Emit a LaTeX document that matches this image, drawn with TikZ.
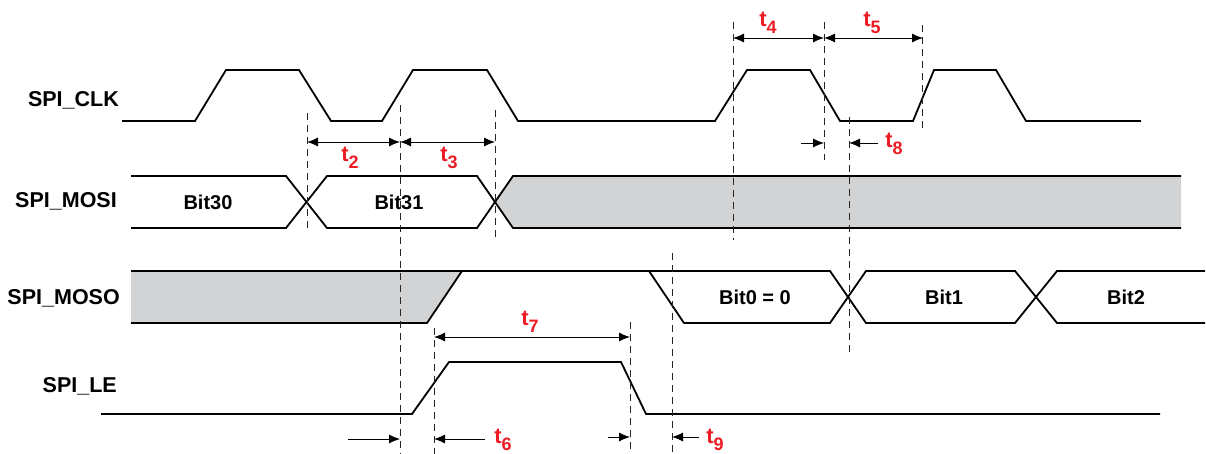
\documentclass[tikz,border=0pt]{standalone}
\usepackage{fontspec}
\setmainfont{Liberation Sans}
\usetikzlibrary{arrows.meta}
\definecolor{tred}{RGB}{237,28,36}
\definecolor{zgray}{RGB}{209,211,212}
\tikzset{
	sig/.style={line width=1.8pt, line join=miter},
	guide/.style={line width=1pt, black!85, dash pattern=on 7pt off 5pt},
	dim/.style={line width=0.9pt, {Latex[length=11pt,width=9pt]}-{Latex[length=11pt,width=9pt]}},
	dimin/.style={line width=0.9pt, -{Latex[length=11pt,width=9pt]}},
	siglab/.style={font=\fontsize{21.5}{21.5}\selectfont\bfseries, anchor=base east, inner sep=0pt},
	bitlab/.style={font=\fontsize{20}{20}\selectfont\bfseries, inner sep=0pt},
	tlab/.style={font=\fontsize{22}{22}\selectfont\bfseries, text=tred, anchor=base, inner sep=0pt}
}
\newcommand{\tsub}[1]{t\raisebox{-7pt}{\fontsize{18}{18}\selectfont #1}}

\begin{document}
\begin{tikzpicture}[x=1pt, y=-1pt]
		%%%%% START %%%%%
		\useasboundingbox (0,0) rectangle (1206,454);
		
		% signal names
		\node[siglab] (clkname) at (119,107) {SPI\_CLK};
		\node[siglab] (mosiname) at (117,208) {SPI\_MOSI};
		\node[siglab] (mosoname) at (120,304) {SPI\_MOSO};
		\node[siglab] (lename) at (117,392) {SPI\_LE};
		
		% SPI_CLK
		\draw[sig] (122,121) -- (195,121) -- (226,70) -- (299,70) -- (331,121) -- (382,121) -- (413,70) -- (487,70) -- (518,121)
			-- (715,121) -- (747,70) -- (810,70) -- (840,121) -- (913,121) -- (934,70) -- (996,70) -- (1026,121) -- (1141,121);
		
		% SPI_MOSI
		\fill[zgray] (495,202) -- (513,176) -- (1181,176) -- (1181,228) -- (513,228) -- cycle;
		\draw[sig] (131,176) -- (286,176) -- (327,228) -- (477,228) -- (513,176) -- (1181,176);
		\draw[sig] (131,228) -- (286,228) -- (327,176) -- (477,176) -- (513,228) -- (1181,228);
		\node[bitlab] (bit30) at (208,202) {Bit30};
		\node[bitlab] (bit31) at (399,202) {Bit31};
		
		% SPI_MOSO
		\fill[zgray] (131,271) -- (462,271) -- (427,323) -- (131,323) -- cycle;
		\draw[sig] (131,323) -- (427,323) -- (462,271);
		\draw[sig] (131,271) -- (830,271) -- (866,323) -- (1015,323) -- (1057,271) -- (1205,271);
		\draw[sig] (649,271) -- (684,323) -- (830,323) -- (866,271) -- (1015,271) -- (1057,323) -- (1205,323);
		\node[bitlab] (bit0) at (755,297) {Bit0 = 0};
		\node[bitlab] (bit1) at (944,297) {Bit1};
		\node[bitlab] (bit2) at (1126,297) {Bit2};
		
		% SPI_LE
		\draw[sig] (101,414) -- (412,414) -- (449,362) -- (621,362) -- (646,414) -- (1160,414);
		
		% dashed guides
		\draw[guide] (307,113) -- (307,232);
		\draw[guide] (400,105) -- (400,454);
		\draw[guide] (495,110) -- (495,238);
		\draw[guide] (733,22) -- (733,240);
		\draw[guide] (824,22) -- (824,160);
		\draw[guide] (922,25) -- (922,130);
		\draw[guide] (849,117) -- (849,352);
		\draw[guide] (434,328) -- (434,454);
		\draw[guide] (630,322) -- (630,454);
		\draw[guide] (672,253) -- (672,454);
		
		% timing arrows
		\draw[dim] (307,142) -- (400,142);
		\draw[dim] (400,142) -- (495,142);
		\draw[dim] (733,38) -- (824,38);
		\draw[dim] (824,38) -- (923,38);
		\draw[dim] (434,337) -- (630,337);
		\draw[dimin] (801,143) -- (824,143);
		\draw[dimin] (878,143) -- (849,143);
		\draw[dimin] (348,439) -- (400,439);
		\draw[dimin] (485,439) -- (434,439);
		\draw[dimin] (608,437) -- (630,437);
		\draw[dimin] (699,437) -- (672,437);
		
		% timing labels
		\node[tlab] (t2) at (350,162) {\tsub{2}};
		\node[tlab] (t3) at (449,162) {\tsub{3}};
		\node[tlab] (t4) at (768,27) {\tsub{4}};
		\node[tlab] (t5) at (872,27) {\tsub{5}};
		\node[tlab] (t6) at (503,443) {\tsub{6}};
		\node[tlab] (t7) at (530,325) {\tsub{7}};
		\node[tlab] (t8) at (894,148) {\tsub{8}};
		\node[tlab] (t9) at (715,443) {\tsub{9}};
		
		%%%%% END %%%%%
	\end{tikzpicture}
\end{document}
